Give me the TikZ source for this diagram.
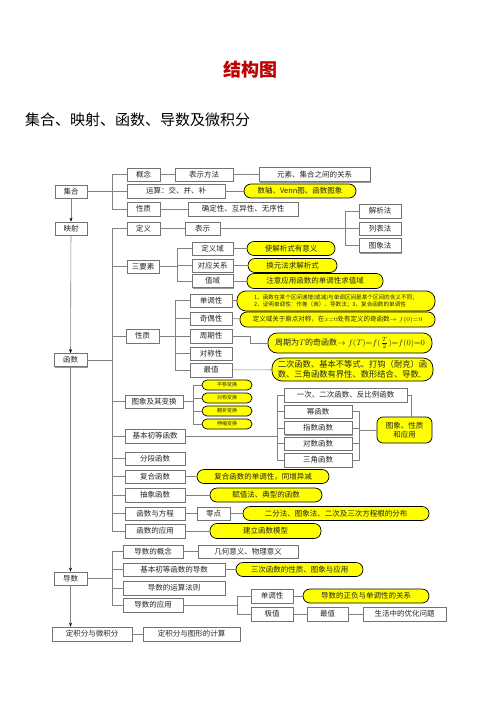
\documentclass[tikz,border=0pt]{standalone}
\usepackage{amsmath}
\usepackage{fontspec}
\setmainfont{Noto Sans CJK SC}
\usepackage{xcolor}
\usetikzlibrary{arrows.meta}
\usetikzlibrary{positioning,shadows}

\definecolor{titlered}{RGB}{192,0,0}
\definecolor{hlyellow}{RGB}{255,255,0}

\tikzset{
  box/.style={draw=black!55, fill=white, line width=0.6pt, minimum height=13pt,
    inner sep=1pt, text=black!85, font=\fontsize{7.5}{9}\selectfont,
    drop shadow={shadow xshift=1.2pt, shadow yshift=-1.2pt, fill=black!40, opacity=1}},
  hl/.style={draw=black, fill=hlyellow, line width=0.7pt, rounded corners=7pt,
    minimum height=14pt, inner sep=1pt, text=black!85, font=\fontsize{7.5}{9}\selectfont},
  hlsmall/.style={hl, rounded corners=5pt, minimum height=10pt, minimum width=50pt,
    font=\fontsize{5}{6}\selectfont},
  link/.style={draw=black!50, line width=0.6pt},
  trunk/.style={link, -{Stealth[black, length=4pt, width=3pt]}},
}

\begin{document}
\begin{tikzpicture}[x=1pt, y=-1pt]
  \fill[white] (0,0) rectangle (500,707);
  \useasboundingbox (0,0) rectangle (500,707);

  % headings
  \node[font=\fontsize{18}{20}\selectfont\bfseries, text=titlered] (title) at (250,70) {结构图};
  \node[anchor=west, inner sep=0pt, font=\fontsize{15}{17}\selectfont] (subtitle) at (25,120)
    {集合、映射、函数、导数及微积分};

  % main column
  \node[box, minimum width=32pt] (jihe) at (71,191.5) {集合};
  \node[box, minimum width=32pt] (yingshe) at (71,228.5) {映射};
  \node[box, minimum width=33pt] (hanshu) at (70.5,360) {函数};
  \node[box, minimum width=33pt] (daoshu) at (70.5,578.5) {导数};
  \node[box, minimum width=80pt, minimum height=14pt] (dingjifen) at (92,634) {定积分与微积分};
  \node[box, minimum width=97pt, minimum height=14pt] (jisuan) at (191.5,634) {定积分与图形的计算};

  % set
  \node[box, minimum width=33pt] (gainian) at (143.5,174.5) {概念};
  \node[box, minimum width=98pt, minimum height=14pt] (yunsuan) at (176,191) {运算：交、并、补};
  \node[box, minimum width=33pt, minimum height=14pt] (xingzhiA) at (143.5,209) {性质};
  \node[box, minimum width=58pt] (biaoshifa) at (204,174.5) {表示方法};
  \node[box, minimum width=111pt, minimum height=14pt] (guanxi) at (314.5,174.5) {元素、集合之间的关系};
  \node[hl, minimum width=112pt] (shuzhou) at (300,191) {数轴、Venn图、函数图象};
  \node[box, minimum width=110pt, minimum height=14pt] (queding) at (243,209) {确定性、互异性、无序性};

  % function: definition and three elements
  \node[box, minimum width=33pt] (dingyi) at (143.5,228.5) {定义};
  \node[box, minimum width=35pt] (biaoshi) at (202.5,228.5) {表示};
  \node[box, minimum width=42pt, minimum height=14pt] (jiexi) at (380,211) {解析法};
  \node[box, minimum width=42pt] (liebiao) at (380,228.5) {列表法};
  \node[box, minimum width=42pt, minimum height=14pt] (tuxiang) at (380,245.5) {图象法};
  \node[box, minimum width=32pt] (sanyaosu) at (143,266.5) {三要素};
  \node[box, minimum width=41pt] (dingyiyu) at (212.5,248.5) {定义域};
  \node[box, minimum width=41pt] (duiying) at (212.5,265.5) {对应关系};
  \node[box, minimum width=41pt] (zhiyu) at (212.5,281) {值域};
  \node[hl, minimum width=88pt] (yA) at (291,248.5) {使解析式有意义};
  \node[hl, minimum width=89pt] (yB) at (292.5,265.5) {换元法求解析式};
  \node[hl, minimum width=136pt, minimum height=15pt] (yC) at (315,281) {注意应用函数的单调性求值域};

  % function: properties
  \node[box, minimum width=33pt, minimum height=14pt] (xingzhiB) at (142.5,336) {性质};
  \node[box, minimum width=42pt] (dandiao) at (211,300.5) {单调性};
  \node[box, minimum width=42pt] (qiou) at (211,318.5) {奇偶性};
  \node[box, minimum width=42pt, minimum height=14pt] (zhouqi) at (211,336) {周期性};
  \node[box, minimum width=42pt] (duichen) at (211,353.5) {对称性};
  \node[box, minimum width=42pt, minimum height=14pt] (zuizhi) at (211,370) {最值};
  \node[hl, minimum width=198pt, minimum height=20pt, rounded corners=9pt, align=left,
    font=\fontsize{5.6}{7}\selectfont] (yD) at (336,301)
    {1、函数在某个区间递增(或减)与单调区间是某个区间的含义不同；\\
     2、证明单调性：作差（商）、导数法；3、复合函数的单调性};
  \node[hl, minimum width=195pt, minimum height=15pt, font=\fontsize{6.5}{8}\selectfont] (yE) at (337.5,319.5)
    {定义域关于原点对称，在$x{=}0$处有定义的奇函数$\to f(0){=}0$};
  \node[hl, minimum width=164pt, minimum height=20pt, rounded corners=9pt, font=\fontsize{8}{10}\selectfont] (yF) at (350,343)
    {周期为$T$的奇函数$\to f(T){=}f(\tfrac{T}{2}){=}f(0){=}0$};
  \node[hl, minimum width=161pt, minimum height=23pt, rounded corners=10pt, align=left,
    font=\fontsize{8.3}{10}\selectfont] (yG) at (352.5,369.5)
    {二次函数、基本不等式、打钩（耐克）函\\数、三角函数有界性、数形结合、导数.};

  % function: graphs and elementary functions
  \node[box, minimum width=58pt] (tuxiangB) at (154,401.5) {图象及其变换};
  \node[hlsmall] (pingyi) at (227,385) {平移变换};
  \node[hlsmall] (duichenB) at (227,398) {对称变换};
  \node[hlsmall] (fanzhe) at (227,411) {翻折变换};
  \node[hlsmall] (shensuo) at (227,424) {伸缩变换};
  \node[box, minimum width=60pt, minimum height=14pt] (jiben) at (155,436) {基本初等函数};
  \node[box, minimum width=123pt, minimum height=14pt] (yici) at (345.5,395) {一次、二次函数、反比例函数};
  \node[box, minimum width=68pt] (mi) at (318,411.5) {幂函数};
  \node[box, minimum width=68pt] (zhishu) at (318,428) {指数函数};
  \node[box, minimum width=68pt] (duishu) at (318,443.5) {对数函数};
  \node[box, minimum width=68pt, minimum height=14pt] (sanjiao) at (318,460) {三角函数};
  \node[hl, minimum width=55pt, minimum height=26pt, rounded corners=6pt, align=center] (yH) at (404.5,430)
    {图象、性质\\和应用};

  % function: other topics
  \node[box, minimum width=60pt] (fenduan) at (155,458.5) {分段函数};
  \node[box, minimum width=60pt] (fuhe) at (155,476.5) {复合函数};
  \node[box, minimum width=60pt, minimum height=14pt] (chouxiang) at (155,495) {抽象函数};
  \node[box, minimum width=60pt] (fangcheng) at (155,513.5) {函数与方程};
  \node[box, minimum width=60pt, minimum height=14pt] (yingyong) at (155,531) {函数的应用};
  \node[box, minimum width=33pt] (lingdian) at (213.5,513.5) {零点};
  \node[hl, minimum width=132pt] (yI) at (263,476.5) {复合函数的单调性，同增异减};
  \node[hl, minimum width=112pt] (yJ) at (266,495) {赋值法、典型的函数};
  \node[hl, minimum width=186pt] (yK) at (336,513.5) {二分法、图象法、二次及三次方程根的分布};
  \node[hl, minimum width=111pt, minimum height=15pt] (yL) at (265.5,531) {建立函数模型};

  % derivative
  \node[box, minimum width=60pt] (dgainian) at (153,551.5) {导数的概念};
  \node[box, minimum width=102pt] (djiben) at (174,569.5) {基本初等函数的导数};
  \node[box, minimum width=102pt, minimum height=14pt] (dyunsuan) at (174,588) {导数的运算法则};
  \node[box, minimum width=60pt, minimum height=14pt] (dyingyong) at (153,605) {导数的应用};
  \node[box, minimum width=100pt] (yiyi) at (248,551.5) {几何意义、物理意义};
  \node[hl, minimum width=127pt] (yM) at (299.5,569.5) {三次函数的性质、图象与应用};
  \node[box, minimum width=42pt, minimum height=14pt] (ddandiao) at (272,596) {单调性};
  \node[box, minimum width=42pt, minimum height=14pt] (jizhi) at (272,614) {极值};
  \node[hl, minimum width=126pt] (yN) at (366,596) {导数的正负与单调性的关系};
  \node[box, minimum width=41pt, minimum height=14pt] (dzuizhi) at (327.5,614) {最值};
  \node[box, minimum width=83pt, minimum height=14pt] (youhua) at (404.5,614) {生活中的优化问题};

  % bracket columns
  \coordinate (bA) at (112,0);
  \coordinate (bB) at (345,0);
  \coordinate (bC) at (177,0);
  \coordinate (bD) at (175,0);
  \coordinate (bE) at (193,0);
  \coordinate (bF) at (277,0);
  \coordinate (bG) at (359,0);
  \coordinate (bH) at (237,0);

  % trunk
  \draw[trunk] (jihe) -- (yingshe);
  \draw[trunk] (yingshe) -- (hanshu);
  \draw[trunk] (hanshu) -- (daoshu);
  \draw[trunk] (daoshu.south) -- (daoshu.south |- dingjifen.north);
  \draw[link] (dingjifen) -- (jisuan);

  % set connectors
  \draw[link] (jihe.east) -- (jihe.east -| bA);
  \draw[link] (gainian.west) -- (gainian.west -| bA) |- (xingzhiA.west);
  \draw[link] (yunsuan.west) -- (yunsuan.west -| bA);
  \draw[link] (gainian) -- (biaoshifa);
  \draw[link] (biaoshifa) -- (guanxi);
  \draw[link] (yunsuan) -- (shuzhou);
  \draw[link] (xingzhiA) -- (queding);

  % function connectors
  \draw[link] (hanshu.east) -- (hanshu.east -| bA);
  \draw[link] (dingyi.west) -- (dingyi.west -| bA) |- (yingyong.west);
  \foreach \n in {sanyaosu,xingzhiB,tuxiangB,jiben,fenduan,fuhe,chouxiang,fangcheng}
    \draw[link] (\n.west) -- (\n.west -| bA);
  \draw[link] (dingyi) -- (biaoshi);
  \draw[link] (biaoshi) -- (liebiao);
  \draw[link] (jiexi.west) -- (jiexi.west -| bB) |- (tuxiang.west);

  \draw[link] (sanyaosu.east) -- (sanyaosu.east -| bC);
  \draw[link] (dingyiyu.west) -- (dingyiyu.west -| bC) |- (zhiyu.west);
  \draw[link] (duiying.west) -- (duiying.west -| bC);
  \draw[link] (dingyiyu) -- (yA);
  \draw[link] (duiying) -- (yB);
  \draw[link] (zhiyu) -- (yC);

  \draw[link] (xingzhiB.east) -- (xingzhiB.east -| bD);
  \draw[link] (dandiao.west) -- (dandiao.west -| bD) |- (zuizhi.west);
  \foreach \n in {qiou,zhouqi,duichen}
    \draw[link] (\n.west) -- (\n.west -| bD);
  \draw[link] (dandiao.east) -- (dandiao.east -| yD.west);
  \draw[link] (qiou) -- (yE);
  \draw[link] (zhouqi.east) -- ++(18,0) |- (yF.west);
  \draw[link] (zuizhi) -- (yG);

  \draw[link] (tuxiangB.east) -- (tuxiangB.east -| bE);
  \draw[link] (pingyi.west) -- (pingyi.west -| bE) |- (shensuo.west);
  \foreach \n in {duichenB,fanzhe}
    \draw[link] (\n.west) -- (\n.west -| bE);

  \draw[link] (jiben.east) -- (jiben.east -| bF);
  \draw[link] (yici.west) -- (yici.west -| bF) |- (sanjiao.west);
  \foreach \n in {mi,zhishu,duishu}
    \draw[link] (\n.west) -- (\n.west -| bF);
  \draw[link] (mi.east) -- (mi.east -| bG) |- (sanjiao.east);
  \foreach \n in {zhishu,duishu}
    \draw[link] (\n.east) -- (\n.east -| bG);
  \draw[link] (bG |- yH.west) -- (yH.west);
  \draw[link] (yici.east) -| ([xshift=7pt]yH.north);

  \draw[link] (fuhe) -- (yI);
  \draw[link] (chouxiang) -- (yJ);
  \draw[link] (fangcheng) -- (lingdian);
  \draw[link] (lingdian) -- (yK);
  \draw[link] (yingyong) -- (yL);

  % derivative connectors
  \draw[link] (daoshu.east) -- (daoshu.east -| bA);
  \draw[link] (dgainian.west) -- (dgainian.west -| bA) |- (dyingyong.west);
  \foreach \n in {djiben,dyunsuan}
    \draw[link] (\n.west) -- (\n.west -| bA);
  \draw[link] (dgainian) -- (yiyi);
  \draw[link] (djiben) -- (yM);
  \draw[link] (dyingyong.east) -- (dyingyong.east -| bH);
  \draw[link] (ddandiao.west) -- (ddandiao.west -| bH) |- (jizhi.west);
  \draw[link] (ddandiao) -- (yN);
  \draw[link] (jizhi) -- (dzuizhi);
  \draw[link] (dzuizhi) -- (youhua);
\end{tikzpicture}
\end{document}
